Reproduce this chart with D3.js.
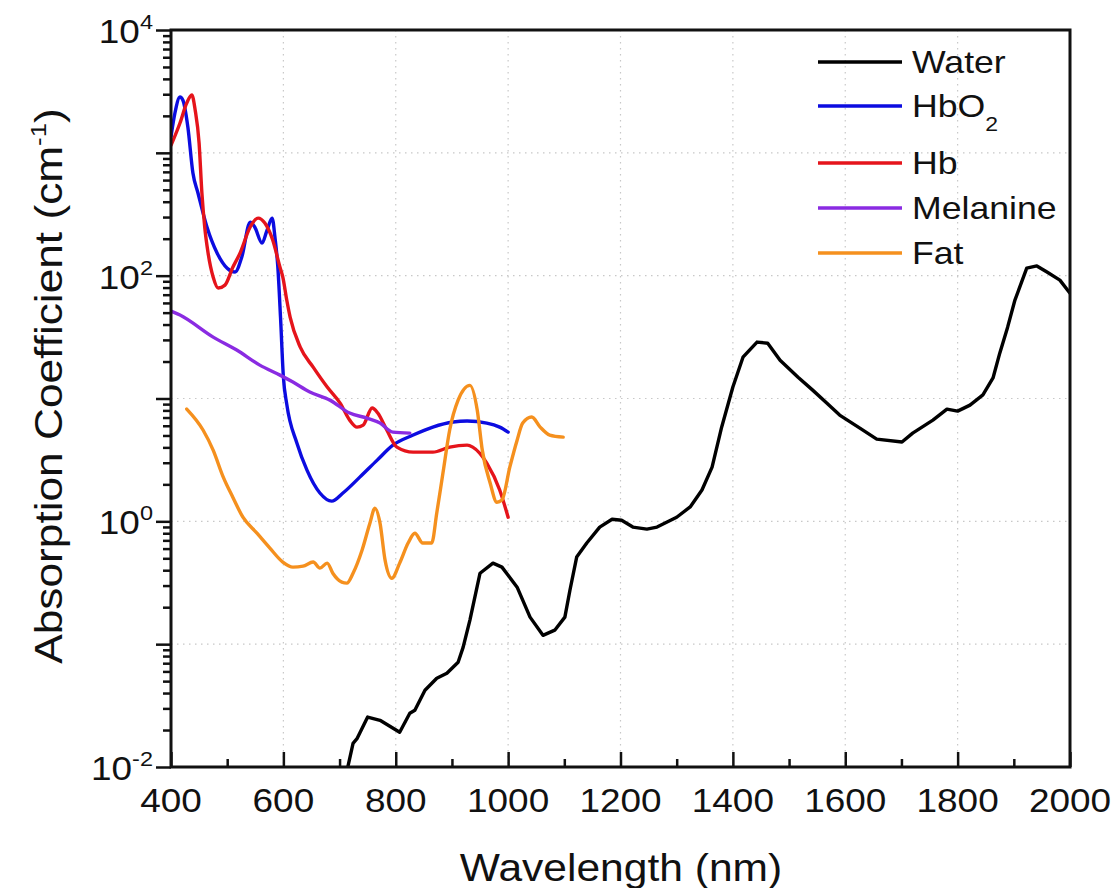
<!DOCTYPE html>
<html>
<head>
<meta charset="utf-8">
<script src="https://cdn.jsdelivr.net/npm/d3@7"></script>
<style>
  html, body { margin: 0; padding: 0; background: #fff; }
  svg text { font-family: "Liberation Sans", Arial, Helvetica, sans-serif; fill: #111; }
</style>
</head>
<body>
<svg id="chart" width="1119" height="888"></svg>
<script>
// Absorption spectra of tissue chromophores (cm^-1) against wavelength (nm)
const waterNm  = [712, 724, 731, 750, 772, 807, 825, 834, 852, 873, 891, 911, 920, 932, 950, 973, 989, 1016, 1039, 1062, 1083, 1101, 1110, 1122, 1140, 1163, 1185, 1202, 1222, 1247, 1265, 1300, 1324, 1345, 1363, 1380, 1400, 1418, 1443, 1462, 1484, 1516, 1542, 1567, 1590, 1626, 1656, 1701, 1720, 1756, 1781, 1800, 1822, 1845, 1863, 1875, 1889, 1902, 1923, 1941, 1959, 1982, 2000];
const waterAbs = [0.0088, 0.0156, 0.0170, 0.0255, 0.0240, 0.0192, 0.0274, 0.0290, 0.0422, 0.0528, 0.058, 0.0713, 0.0946, 0.157, 0.378, 0.457, 0.424, 0.291, 0.166, 0.118, 0.130, 0.166, 0.275, 0.512, 0.666, 0.898, 1.04, 1.02, 0.898, 0.865, 0.898, 1.08, 1.31, 1.80, 2.76, 5.84, 12.4, 21.7, 28.8, 28.2, 20.5, 14.9, 11.7, 9.18, 7.33, 5.74, 4.67, 4.42, 5.23, 6.67, 8.20, 7.89, 8.83, 10.7, 14.7, 23.4, 38.1, 63.3, 115, 120, 107, 92, 72];

const hbo2Nm  = [400, 407, 416, 421, 430, 439, 448, 464, 482, 500, 514, 526, 541, 549, 562, 571, 580, 585, 590, 595, 600, 606, 624, 642, 665, 686, 706, 736, 767, 795, 831, 866, 902, 927, 962, 985, 1000];
const hbo2Abs = [1350, 2110, 2846, 2690, 1622, 685, 471, 249, 153, 115, 107, 142, 273, 249, 184, 235, 294, 206, 120, 45, 15, 9.0, 4.34, 2.61, 1.70, 1.46, 1.70, 2.29, 3.15, 4.17, 5.04, 5.85, 6.43, 6.55, 6.31, 5.85, 5.33];

const hbNm  = [400, 416, 428, 437, 443, 450, 455, 460, 466, 475, 484, 496, 510, 523, 541, 555, 567, 581, 594, 599, 606, 612, 630, 653, 678, 701, 718, 731, 742, 758, 768, 784, 802, 831, 866, 896, 927, 937, 962, 985, 1000];
const hbAbs = [1150, 1750, 2546, 2960, 2233, 1202, 471, 249, 153, 97.4, 79.3, 83.8, 117, 153, 249, 294, 268, 195, 117, 97.4, 63.3, 46.0, 26.2, 18.0, 12.4, 9.18, 6.67, 5.85, 6.07, 8.36, 7.61, 5.54, 4.02, 3.66, 3.66, 4.02, 4.17, 4.02, 2.98, 1.80, 1.08];

const melaninNm  = [400, 416, 475, 517, 558, 594, 617, 647, 683, 718, 749, 772, 795, 825];
const melaninAbs = [51.5, 47.8, 31.6, 24.8, 18.7, 15.5, 13.6, 11.3, 9.70, 7.61, 6.92, 6.31, 5.33, 5.23];

const fatNm  = [428, 457, 475, 493, 510, 528, 553, 576, 599, 617, 635, 653, 665, 678, 688, 704, 713, 724, 740, 754, 763, 772, 781, 793, 807, 822, 834, 848, 864, 873, 884, 896, 911, 932, 945, 954, 968, 980, 989, 1003, 1016, 1026, 1042, 1057, 1074, 1098];
const fatAbs = [8.20, 5.54, 3.80, 2.29, 1.57, 1.08, 0.80, 0.605, 0.466, 0.424, 0.432, 0.466, 0.416, 0.457, 0.378, 0.320, 0.314, 0.378, 0.582, 0.966, 1.28, 0.966, 0.483, 0.344, 0.457, 0.666, 0.80, 0.666, 0.666, 1.17, 2.47, 5.54, 9.70, 12.8, 8.05, 3.80, 2.05, 1.43, 1.49, 2.76, 4.58, 6.31, 7.06, 5.85, 5.04, 4.85];

const seriesNames  = ["Water", "HbO2", "Hb", "Melanine", "Fat"];
const seriesColors = ["#000000", "#0c0ce0", "#e5141b", "#8a2be2", "#f5901e"];

const xMajorTicks = [400, 600, 800, 1000, 1200, 1400, 1600, 1800, 2000];
const xMinorTicks = [500, 700, 900, 1100, 1300, 1500, 1700, 1900];
const yLabelExponents = [-2, 0, 2, 4];
const yTitle = "Absorption Coefficient (cm";
const xTitle = "Wavelength (nm)";

(function draw() {
  const SX = 1.12;              // horizontal stretch applied to the lettering
  const pL = 171, pR = 1070, pT = 30, pB = 767;

  const svg = d3.select("#chart");
  const x = d3.scaleLinear().domain([400, 2000]).range([pL, pR]);
  const y = d3.scaleLog().domain([1e-2, 1e4]).range([pB, pT]);

  const zip = (a, b) => a.map((d, i) => [d, b[i]]);
  const series = [
    zip(waterNm, waterAbs),
    zip(hbo2Nm, hbo2Abs),
    zip(hbNm, hbAbs),
    zip(melaninNm, melaninAbs),
    zip(fatNm, fatAbs)
  ];

  svg.append("defs").append("clipPath").attr("id", "plotClip")
    .append("rect").attr("x", pL).attr("y", pT)
    .attr("width", pR - pL).attr("height", pB - pT);

  // dotted grid
  const grid = svg.append("g").attr("stroke", "#c8c8c8").attr("stroke-width", 1.2)
    .attr("stroke-dasharray", "1.5,4.5");
  xMajorTicks.filter(v => v > 400 && v < 2000).forEach(v => {
    grid.append("line").attr("x1", x(v)).attr("x2", x(v)).attr("y1", pT).attr("y2", pB);
  });
  [-1, 0, 1, 2, 3].forEach(e => {
    grid.append("line").attr("x1", pL).attr("x2", pR)
      .attr("y1", y(Math.pow(10, e))).attr("y2", y(Math.pow(10, e)));
  });

  // x axis: ticks point into the plot
  const gxMaj = svg.append("g").attr("transform", `translate(0,${pB})`)
    .call(d3.axisTop(x).tickValues(xMajorTicks).tickSize(15).tickFormat(""));
  const gxMin = svg.append("g").attr("transform", `translate(0,${pB})`)
    .call(d3.axisTop(x).tickValues(xMinorTicks).tickSize(8).tickFormat(""));
  // y axis: ticks point outward
  const yMajorVals = d3.range(-2, 5).map(e => Math.pow(10, e));
  const yMinorVals = [];
  for (let e = -2; e < 4; e++) for (let m = 2; m <= 9; m++) yMinorVals.push(m * Math.pow(10, e));
  const gyMaj = svg.append("g").attr("transform", `translate(${pL},0)`)
    .call(d3.axisLeft(y).tickValues(yMajorVals).tickSize(15).tickFormat(""));
  const gyMin = svg.append("g").attr("transform", `translate(${pL},0)`)
    .call(d3.axisLeft(y).tickValues(yMinorVals).tickSize(8).tickFormat(""));
  [gxMaj, gxMin, gyMaj, gyMin].forEach(g => {
    g.select(".domain").remove();
    g.selectAll(".tick line").attr("stroke", "#111").attr("stroke-width", 2.5);
  });

  // spectra
  const line = d3.line().x(d => x(d[0])).y(d => y(d[1]));
  const plot = svg.append("g").attr("clip-path", "url(#plotClip)");
  series.forEach((s, i) => {
    plot.append("path").datum(s)
      .attr("d", line.curve(i === 0 ? d3.curveLinear : d3.curveMonotoneX))
      .attr("fill", "none").attr("stroke", seriesColors[i])
      .attr("stroke-width", 3.4).attr("stroke-linejoin", "round").attr("stroke-linecap", "round");
  });

  // frame
  svg.append("rect").attr("x", pL).attr("y", pT)
    .attr("width", pR - pL).attr("height", pB - pT)
    .attr("fill", "none").attr("stroke", "#111").attr("stroke-width", 3);

  // tick labels
  xMajorTicks.forEach(v => {
    svg.append("text")
      .attr("transform", `translate(${x(v)},812) scale(${SX},1)`)
      .attr("text-anchor", "middle").attr("font-size", 33).text(v);
  });
  yLabelExponents.forEach(e => {
    const t = svg.append("text")
      .attr("transform", `translate(153,${y(Math.pow(10, e)) + 13}) scale(${SX},1)`)
      .attr("text-anchor", "end").attr("font-size", 33);
    t.append("tspan").text("10");
    t.append("tspan").attr("font-size", 21).attr("dy", -14).text(e);
  });

  // axis titles
  svg.append("text")
    .attr("transform", `translate(621,881) scale(${SX},1)`)
    .attr("text-anchor", "middle").attr("font-size", 38).text(xTitle);

  const yt = svg.append("text")
    .attr("transform", `translate(62,386) rotate(-90) scale(${SX},1)`)
    .attr("text-anchor", "middle").attr("font-size", 39.5);
  yt.append("tspan").text(yTitle);
  yt.append("tspan").attr("font-size", 23).attr("dy", -16).text("-1");
  yt.append("tspan").attr("dy", 16).text(")");

  // legend
  const legendY = [62, 106, 163, 208, 253];
  const legend = svg.append("g");
  seriesNames.forEach((name, i) => {
    legend.append("line").attr("x1", 818).attr("x2", 902)
      .attr("y1", legendY[i]).attr("y2", legendY[i])
      .attr("stroke", seriesColors[i]).attr("stroke-width", 3.4);
    const t = legend.append("text")
      .attr("transform", `translate(912,${legendY[i] + 11}) scale(1.15,1)`)
      .attr("font-size", 31);
    if (name === "HbO2") {
      t.append("tspan").text("HbO");
      t.append("tspan").attr("font-size", 20).attr("dy", 14).text("2");
    } else {
      t.text(name);
    }
  });
})();
</script>
</body>
</html>
